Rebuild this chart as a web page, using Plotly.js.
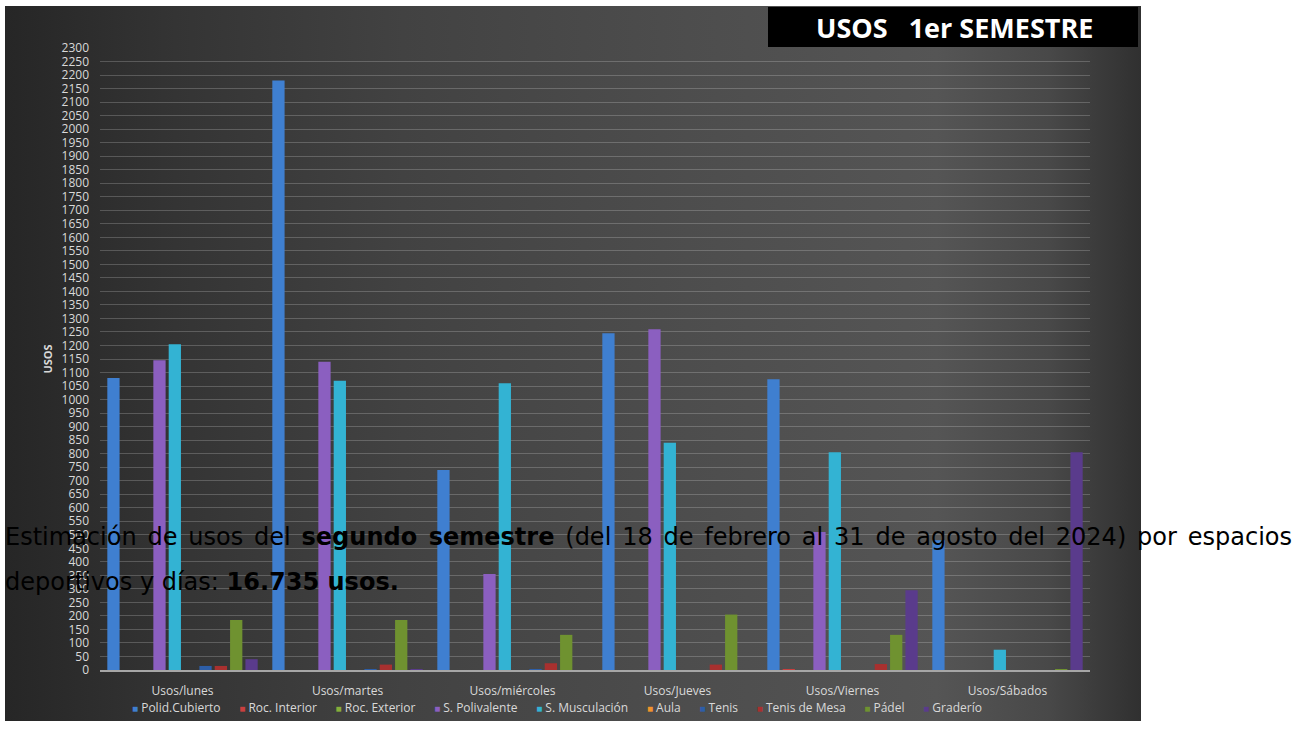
<!DOCTYPE html>
<html>
<head>
<meta charset="utf-8">
<script src="https://cdn.plot.ly/plotly-3.0.1.min.js"></script>
<style>
  html, body { margin: 0; padding: 0; background: #ffffff; width: 1299px; height: 756px; overflow: hidden; }
  #wrap { position: absolute; left: 5px; top: 6px; width: 1136px; height: 715px;
    background: linear-gradient(90deg, #262626 0%, #343434 15%, #424242 35%, #4d4d4d 60%, #555555 82%, #484848 92%, #303030 100%); }
  #chart { position: absolute; left: 0; top: 0; width: 1136px; height: 715px; }
  .note { position: absolute; left: 5px; width: 1287px; font-family: "DejaVu Sans", sans-serif;
    font-size: 24px; line-height: 32px; color: #000; white-space: nowrap; }
  #note1 { top: 521px; text-align: justify; text-align-last: justify; }
  #note2 { top: 566px; text-align: left; }
</style>
</head>
<body>
<div id="wrap"><div id="chart"></div></div>
<div class="note" id="note1">Estimación de usos del <b>segundo semestre</b> (del 18 de febrero al 31 de agosto del 2024) por espacios</div>
<div class="note" id="note2">deportivos y días: <b>16.735 usos.</b></div>
<script>
const categories = ['Usos/lunes', 'Usos/martes', 'Usos/miércoles', 'Usos/Jueves', 'Usos/Viernes', 'Usos/Sábados'];
const seriesNames = ['Polid.Cubierto', 'Roc. Interior', 'Roc. Exterior', 'S. Polivalente', 'S. Musculación', 'Aula', 'Tenis', 'Tenis de Mesa', 'Pádel', 'Graderío'];
const polidCubierto = [1080, 2180, 740, 1245, 1075, 480];
const rocInterior   = [0, 0, 0, 0, 3, 0];
const rocExterior   = [0, 0, 0, 0, 0, 0];
const sPolivalente  = [1145, 1140, 355, 1260, 510, 0];
const sMusculacion  = [1205, 1070, 1060, 840, 805, 75];
const aula          = [0, 0, 0, 0, 0, 0];
const tenis         = [15, 3, 2, 0, 0, 0];
const tenisDeMesa   = [15, 20, 25, 20, 22, 0];
const padel         = [185, 185, 130, 205, 130, 3];
const graderio      = [40, 2, 0, 0, 295, 805];
const tickValues = [];
for (let v = 0; v <= 2300; v += 50) tickValues.push(v);

const seriesValues = [polidCubierto, rocInterior, rocExterior, sPolivalente, sMusculacion, aula, tenis, tenisDeMesa, padel, graderio];
const colors = ['#3f7fd0', '#c9403f', '#86ad3a', '#8b5fc0', '#33b3d3', '#f0942c', '#2d5ea8', '#a8302f', '#6f9230', '#5a3b8c'];

const traces = seriesNames.map((name, i) => ({
  type: 'bar', name: name, x: categories, y: seriesValues[i],
  marker: { color: colors[i], line: { width: 0 } },
  showlegend: false,
  hoverinfo: 'x+y+name'
}));

// compact legend built from the series names and colours
const NB = '\u00A0';
const legendText = seriesNames.map((n, i) =>
  `<span style="color:${colors[i]};font-size:10px">■</span>${NB}${n}`).join(NB.repeat(6));

const layout = {
  width: 1136, height: 715,
  paper_bgcolor: 'rgba(0,0,0,0)', plot_bgcolor: 'rgba(0,0,0,0)',
  margin: { l: 95, r: 51, t: 42, b: 51 },
  barmode: 'group', bargap: 0.07, bargroupgap: 0.2,
  font: { family: 'Open Sans, sans-serif', color: '#d9d9d9', size: 12 },
  title: { text: '<b>USOS   1er SEMESTRE</b>', x: 0.836, xanchor: 'center', y: 0.969, yanchor: 'middle',
    font: { family: 'Open Sans, sans-serif', size: 27, color: '#ffffff' } },
  shapes: [{ type: 'rect', xref: 'paper', yref: 'paper', x0: (768 - 100) / 990, x1: (1138 - 100) / 990,
    y0: (670 - 47) / 622, y1: (670 - 7) / 622, fillcolor: '#000000', line: { width: 0 }, layer: 'below' }],
  annotations: [{ xref: 'paper', yref: 'paper', x: 0.462, y: -0.061, xanchor: 'center', yanchor: 'middle',
    text: legendText, showarrow: false, font: { family: 'Open Sans, sans-serif', size: 12, color: '#d9d9d9' } }],
  xaxis: { type: 'category', showgrid: false, showline: true, linecolor: '#a6a6a6', linewidth: 1.5,
    ticks: '', ticklabelstandoff: 9, tickfont: { size: 12, color: '#d9d9d9' }, zeroline: false },
  yaxis: { range: [0, 2300], tickvals: tickValues, ticktext: tickValues.map(String), showgrid: true,
    gridcolor: 'rgba(255,255,255,0.2)', gridwidth: 1, zeroline: false, showline: false, ticks: '',
    ticklabelstandoff: 10, tickfont: { size: 12, color: '#d9d9d9' },
    title: { text: '<b>USOS</b>', standoff: 6, font: { size: 11, color: '#d9d9d9' } } },
  showlegend: false
};

Plotly.newPlot('chart', traces, layout, { displayModeBar: false });
</script>
</body>
</html>
